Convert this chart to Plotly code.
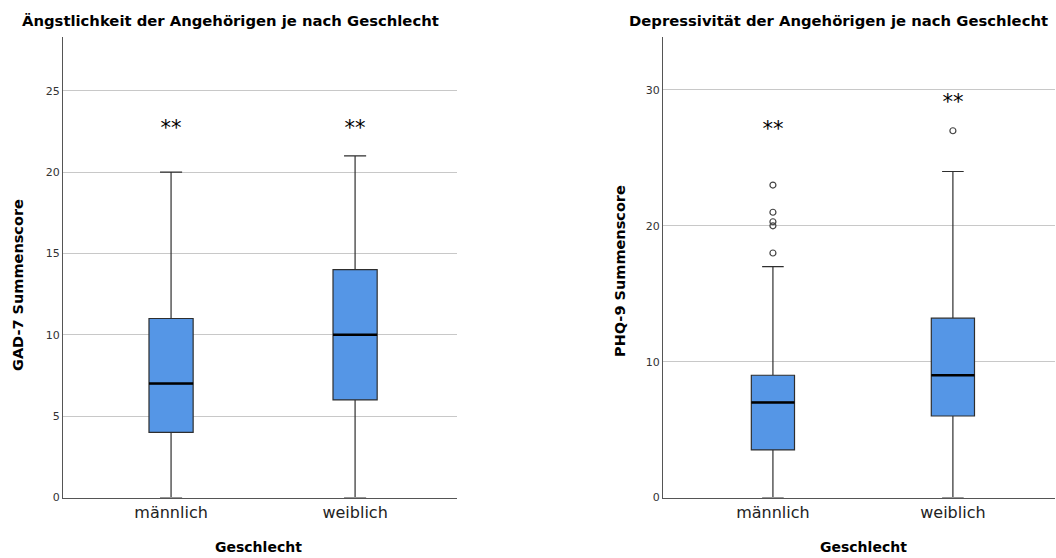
import plotly.graph_objects as go

# Categories
groups = ["männlich", "weiblich"]

# GAD-7 box statistics per group
gad_low = [0, 0]
gad_q1 = [4, 6]
gad_med = [7, 10]
gad_q3 = [11, 14]
gad_high = [20, 21]
gad_sig = ["**", "**"]
gad_sig_y = [22.6, 22.6]

# PHQ-9 box statistics per group
phq_low = [0, 0]
phq_q1 = [3.5, 6]
phq_med = [7, 9]
phq_q3 = [9, 13.2]
phq_high = [17, 24]
phq_out_male = [18, 20, 20.3, 21, 23]
phq_out_female = [27]
phq_sig = ["**", "**"]
phq_sig_y = [27, 29]

BOX_FILL = "#5596E6"
BOX_EDGE = "#2e2e2e"
BOX_W = 0.24
FONT = "DejaVu Sans"

fig = go.Figure()
xpos = [0, 1]


def add_boxes(xa, ya, low, q1, med, q3, high):
    fig.add_trace(go.Box(
        x=xpos, q1=q1, median=med, q3=q3, lowerfence=low, upperfence=high,
        width=BOX_W, whiskerwidth=0.5, fillcolor=BOX_FILL,
        line=dict(color=BOX_EDGE, width=1.2), boxpoints=False,
        xaxis=xa, yaxis=ya, showlegend=False, hoverinfo="skip"))
    # thick median bars
    for x, m in zip(xpos, med):
        fig.add_trace(go.Scatter(
            x=[x - BOX_W / 2, x + BOX_W / 2], y=[m, m], mode="lines",
            line=dict(color="black", width=2.5), xaxis=xa, yaxis=ya,
            showlegend=False, hoverinfo="skip"))


add_boxes("x", "y", gad_low, gad_q1, gad_med, gad_q3, gad_high)
add_boxes("x2", "y2", phq_low, phq_q1, phq_med, phq_q3, phq_high)

# outliers
for x, vals in zip(xpos, [phq_out_male, phq_out_female]):
    fig.add_trace(go.Scatter(
        x=[x] * len(vals), y=vals, mode="markers",
        marker=dict(symbol="circle-open", size=6, color="#444",
                    line=dict(width=1.2)),
        xaxis="x2", yaxis="y2", showlegend=False, hoverinfo="skip"))

# significance markers
fig.add_trace(go.Scatter(
    x=xpos, y=gad_sig_y, mode="text", text=gad_sig,
    textfont=dict(family=FONT, size=21, color="#000000"),
    xaxis="x", yaxis="y", showlegend=False, hoverinfo="skip"))
fig.add_trace(go.Scatter(
    x=xpos, y=phq_sig_y, mode="text", text=phq_sig,
    textfont=dict(family=FONT, size=21, color="#000000"),
    xaxis="x2", yaxis="y2", showlegend=False, hoverinfo="skip"))

ydom = [0.1084, 0.9337]
axis_common = dict(
    showline=True, linecolor="#555", linewidth=1, zeroline=False,
    automargin=False,
    tickfont=dict(family=FONT, size=11, color="#333"),
)
xcommon = dict(axis_common, tickvals=xpos, ticktext=groups, showgrid=False,
               tickfont=dict(family=FONT, size=16, color="#222"),
               ticks="")

fig.update_layout(
    width=1056, height=558,
    margin=dict(l=0, r=0, t=0, b=0, autoexpand=False),
    paper_bgcolor="white", plot_bgcolor="white",
    xaxis=dict(xcommon, domain=[0.0597, 0.4328], range=[-0.587, 1.554],
               anchor="y"),
    yaxis=dict(axis_common, domain=ydom, range=[0, 28.3], dtick=5,
               showgrid=True, gridcolor="#c8c8c8", gridwidth=1,
               ticks="", anchor="x"),
    xaxis2=dict(xcommon, domain=[0.6278, 0.999], range=[-0.611, 1.567],
                anchor="y2"),
    yaxis2=dict(axis_common, domain=ydom, range=[0, 33.9], dtick=10,
                showgrid=True, gridcolor="#c8c8c8", gridwidth=1,
                ticks="", anchor="x2"),
)

titles = [
    ("Ängstlichkeit der Angehörigen je nach Geschlecht", 20),
    ("Depressivität der Angehörigen je nach Geschlecht", 627),
]
for text, xpx in titles:
    fig.add_annotation(text=f"<b>{text}</b>", xref="paper", yref="paper",
                       x=xpx / 1056, y=1 - 20 / 558, xanchor="left",
                       yanchor="middle", showarrow=False,
                       font=dict(family=FONT, size=14.8, color="black"))

for xpx in [258, 863]:
    fig.add_annotation(text="<b>Geschlecht</b>", xref="paper", yref="paper",
                       x=xpx / 1056, y=1 - 547 / 558, xanchor="center",
                       yanchor="middle", showarrow=False,
                       font=dict(family=FONT, size=14, color="black"))

for text, xpx, ypx in [("GAD-7 Summenscore", 18, 285),
                       ("PHQ-9 Summenscore", 620, 271)]:
    fig.add_annotation(text=f"<b>{text}</b>", xref="paper", yref="paper",
                       x=xpx / 1056, y=1 - ypx / 558, xanchor="center",
                       yanchor="middle", textangle=-90, showarrow=False,
                       font=dict(family=FONT, size=14.5, color="black"))

fig.write_html("out.html")
